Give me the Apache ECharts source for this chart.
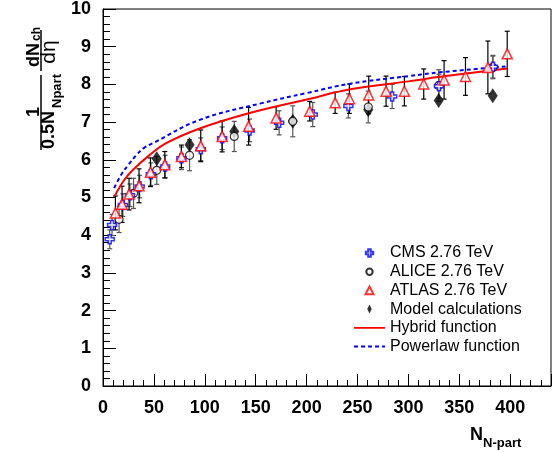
<!DOCTYPE html>
<html><head><meta charset="utf-8">
<script src="https://cdn.jsdelivr.net/npm/echarts@6/dist/echarts.min.js"></script>
<style>html,body{margin:0;padding:0;background:#fff}#c{width:557px;height:452px}</style>
</head><body><div id="c"></div>
<script>
// ---- data ----
const cmsX = [6.6, 8.9, 19.5, 26.5, 36, 47, 61, 77, 96, 117, 144, 173, 206, 241, 284, 330, 383];
const cmsY = [3.89, 4.27, 4.80, 5.06, 5.29, 5.62, 5.82, 6.04, 6.28, 6.57, 6.78, 6.98, 7.20, 7.43, 7.68, 7.95, 8.47];
const cmsErr = [0.25, 0.28, 0.3, 0.3, 0.3, 0.3, 0.3, 0.3, 0.3, 0.3, 0.3, 0.32, 0.32, 0.32, 0.32, 0.32, 0.3];

const aliceX = [15.8, 30.0, 52.8, 85.0, 128.9, 186.4, 260.5, 329.7, 382.8];
const aliceY = [4.42, 5.11, 5.72, 6.12, 6.62, 7.02, 7.40, 7.97, 8.45];
const aliceErr = [0.35, 0.4, 0.37, 0.41, 0.4, 0.41, 0.42, 0.42, 0.3];

const atlasX = [12.2, 18.7, 25.6, 35.4, 46.6, 60.7, 77, 96, 117, 143, 170, 203, 228, 242, 261, 278, 296, 315, 335, 356, 378, 397];
const atlasY = [4.59, 4.82, 5.09, 5.31, 5.67, 5.87, 6.09, 6.37, 6.62, 6.89, 7.11, 7.29, 7.51, 7.62, 7.72, 7.82, 7.82, 8.01, 8.12, 8.21, 8.45, 8.81];
const atlasErr = [0.45, 0.48, 0.42, 0.45, 0.38, 0.35, 0.3, 0.42, 0.41, 0.5, 0.3, 0.26, 0.28, 0.39, 0.5, 0.4, 0.39, 0.4, 0.51, 0.5, 0.7, 0.6];

const modelX = [52.8, 85.0, 128.9, 186.4, 260.5, 329.7, 382.8];
const modelY = [6.03, 6.40, 6.75, 7.02, 7.33, 7.57, 7.70];

const hybridX = [11.5, 21, 30, 46, 62, 95, 144, 200, 243, 300, 331, 397];
const hybridY = [5.04, 5.47, 5.75, 6.13, 6.44, 6.83, 7.24, 7.60, 7.87, 8.08, 8.20, 8.42];

const powerX = [11, 18, 25, 33, 40, 49, 95, 154, 200, 243, 300, 331, 397];
const powerY = [5.25, 5.61, 5.87, 6.13, 6.31, 6.44, 7.06, 7.49, 7.77, 8.02, 8.22, 8.32, 8.48];

const xTickLabels = ['0','50','100','150','200','250','300','350','400'];
const yTickLabels = ['0','1','2','3','4','5','6','7','8','9','10'];
const legendNames = ['CMS 2.76 TeV','ALICE 2.76 TeV','ATLAS 2.76 TeV','Model calculations','Hybrid function','Powerlaw function'];

// ---- build ----
const FONT = '"Liberation Sans", Arial, Helvetica, sans-serif';
const zip = (xs, ys) => xs.map((x, i) => [x, ys[i]]);

function errSeries(xs, ys, es, color) {
  return {
    type: 'custom', silent: true, z: 2,
    data: xs.map((x, i) => [x, ys[i] - es[i], ys[i] + es[i]]),
    encode: { x: 0, y: [1, 2] },
    renderItem: function (params, api) {
      const lo = api.coord([api.value(0), api.value(1)]);
      const hi = api.coord([api.value(0), api.value(2)]);
      const c = 2.5;
      const st = { stroke: color, lineWidth: 1.2 };
      return { type: 'group', children: [
        { type: 'line', shape: { x1: lo[0], y1: lo[1], x2: hi[0], y2: hi[1] }, style: st },
        { type: 'line', shape: { x1: lo[0] - c, y1: lo[1], x2: lo[0] + c, y2: lo[1] }, style: st },
        { type: 'line', shape: { x1: hi[0] - c, y1: hi[1], x2: hi[0] + c, y2: hi[1] }, style: st }
      ]};
    }
  };
}

const crossPath = 'path://M3,0H6V3H9V6H6V9H3V6H0V3H3Z';
const diamondPath = 'path://M3,0L6,5L3,10L0,5Z';
// legend icons drawn in a 31x9 box (corner dots fix the box)
const BOX = 'M0,0L0.01,0M31,9L31.01,9';
const legendIcons = [
  'path://' + BOX + 'M14.2,0.8H16.8V3.2H19.2V5.8H16.8V8.2H14.2V5.8H11.8V3.2H14.2Z',
  'path://' + BOX + 'M12.3,4.5A3.2,3.2 0 1,0 18.7,4.5A3.2,3.2 0 1,0 12.3,4.5Z',
  'path://' + BOX + 'M15.5,0.6L19.5,8.4L11.5,8.4Z',
  'path://' + BOX + 'M15.5,-0.5L18,4.5L15.5,9.5L13,4.5Z',
  'path://' + BOX + 'M0,3.6H31V5.4H0Z',
  'path://' + BOX + 'M0,3.6h4v1.8h-4zM7,3.6h4v1.8h-4zM14,3.6h4v1.8h-4zM21,3.6h4v1.8h-4zM28,3.6h3v1.8h-3z'
];

function rotText(text, x, y, size, weight) {
  return { type: 'text', x: x, y: y, rotation: Math.PI / 2,
    style: { text: text, fontSize: size, fontWeight: weight, fontFamily: FONT, fill: '#000', align: 'center', verticalAlign: 'middle' } };
}

const chart = echarts.init(document.getElementById('c'), null, { renderer: 'canvas' });
chart.setOption({
  animation: false,
  backgroundColor: '#fff',
  grid: { left: 103, top: 4, width: 448, height: 382, show: true, borderColor: '#000', borderWidth: 1, backgroundColor: 'transparent' },
  xAxis: {
    type: 'value', min: 0, max: 440, interval: 50,
    axisLine: { show: true, lineStyle: { color: '#000', width: 1 } },
    axisTick: { show: true, inside: true, length: 12, lineStyle: { color: '#000' } },
    minorTick: { show: true, splitNumber: 5, length: 6, lineStyle: { color: '#000' } },
    splitLine: { show: false },
    axisLabel: { margin: 13, color: '#000', fontFamily: FONT, fontWeight: 'bold', fontSize: 18,
      formatter: v => { const i = Math.round(v / 50); return (v % 50 === 0 && i < xTickLabels.length) ? xTickLabels[i] : ''; } }
  },
  yAxis: {
    type: 'value', min: 0, max: 10, interval: 1,
    axisLine: { show: true, lineStyle: { color: '#000', width: 1 } },
    axisTick: { show: true, inside: true, length: 13, lineStyle: { color: '#000' } },
    minorTick: { show: true, splitNumber: 5, length: 7, lineStyle: { color: '#000' } },
    splitLine: { show: false },
    axisLabel: { margin: 12, color: '#000', fontFamily: FONT, fontWeight: 'bold', fontSize: 18,
      formatter: v => yTickLabels[Math.round(v)] || '' }
  },
  legend: {
    orient: 'vertical', left: 348, top: 240, itemWidth: 31, itemHeight: 9, itemGap: 2.7,
    textStyle: { fontFamily: FONT, fontSize: 16, color: '#000', lineHeight: 16 },
    data: legendNames.map((n, i) => ({ name: n, icon: legendIcons[i] }))
  },
  series: [
    errSeries(cmsX, cmsY, cmsErr, '#555'),
    errSeries(aliceX, aliceY, aliceErr, '#555'),
    errSeries(atlasX, atlasY, atlasErr, '#000'),
    { name: legendNames[4], type: 'line', z: 3, smooth: 0.4, symbol: 'none',
      data: zip(hybridX, hybridY), lineStyle: { color: '#ff0000', width: 2 }, itemStyle: { color: '#ff0000' } },
    { name: legendNames[5], type: 'line', z: 3, smooth: 0.4, symbol: 'none',
      data: zip(powerX, powerY), lineStyle: { color: '#0000ff', width: 2, type: [4, 3] }, itemStyle: { color: '#0000ff' } },
    { name: legendNames[3], type: 'scatter', z: 4, symbol: diamondPath, symbolSize: [10, 15],
      data: zip(modelX, modelY), itemStyle: { color: '#000' } },
    { name: legendNames[1], type: 'scatter', z: 4, symbol: 'circle', symbolSize: 8,
      data: zip(aliceX, aliceY), itemStyle: { color: '#fff', borderColor: '#000', borderWidth: 1.2 } },
    { name: legendNames[0], type: 'scatter', z: 5, symbol: crossPath, symbolSize: 9,
      data: zip(cmsX, cmsY), itemStyle: { color: '#fff', borderColor: '#0000ff', borderWidth: 1.5 } },
    { name: legendNames[2], type: 'scatter', z: 5, symbol: 'triangle', symbolSize: 10,
      data: zip(atlasX, atlasY), itemStyle: { color: '#fff', borderColor: '#ff0000', borderWidth: 1.5 } }
  ],
  graphic: [
    // y-axis title (rotated)
    rotText('dN', 34, 55, 18, 'bold'),
    rotText('ch', 37, 34, 12, 'bold'),
    { type: 'line', shape: { x1: 41, y1: 30, x2: 41, y2: 71 }, style: { stroke: '#000', lineWidth: 1.5 } },
    rotText('dη', 49, 52, 21, 'normal'),
    rotText('1', 34, 112, 18, 'bold'),
    { type: 'line', shape: { x1: 41, y1: 75, x2: 41, y2: 150 }, style: { stroke: '#000', lineWidth: 1.5 } },
    rotText('0.5N', 49, 130, 18, 'bold'),
    rotText('Npart', 57, 91, 13, 'bold'),
    // x-axis title
    { type: 'text', x: 470, y: 435, style: { text: 'N', fontSize: 18, fontWeight: 'bold', fontFamily: FONT, fill: '#000', align: 'left', verticalAlign: 'middle' } },
    { type: 'text', x: 483, y: 443, style: { text: 'N-part', fontSize: 13, fontWeight: 'bold', fontFamily: FONT, fill: '#000', align: 'left', verticalAlign: 'middle' } }
  ]
});
</script>
</body></html>
